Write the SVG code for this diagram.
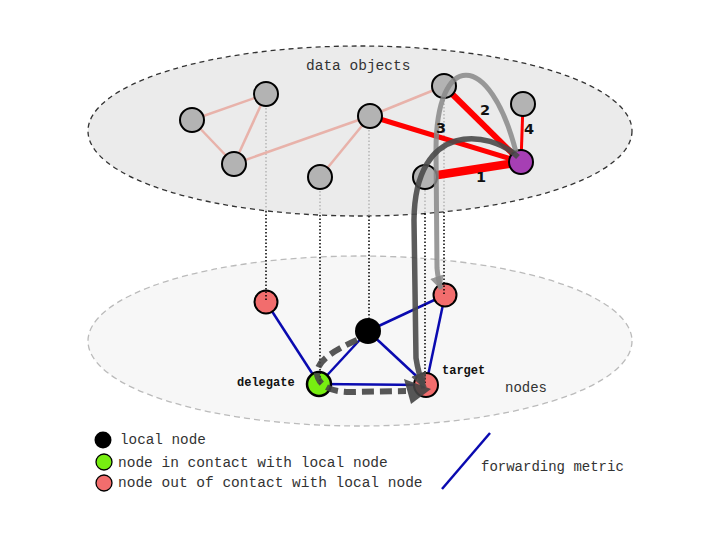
<svg xmlns="http://www.w3.org/2000/svg" width="720" height="540" viewBox="0 0 720 540">
<style>
.mono{font-family:"Liberation Mono","DejaVu Sans Mono",monospace;fill:#333}
.lbl{font-family:"Liberation Mono",monospace;font-weight:bold;font-size:12px;fill:#111}
.num{font-family:"DejaVu Sans",sans-serif;font-weight:bold;font-size:14.5px;fill:#111;text-anchor:middle}
.gn{fill:#b3b3b3;stroke:#000;stroke-width:2}
.rn{fill:#f26d6d;stroke:#000;stroke-width:2}
.pink{stroke:#e8b2aa;stroke-width:2.5;fill:none}
.red{stroke:#ff0000;fill:none}
.blue{stroke:#0a0ab0;stroke-width:2.5;fill:none}
.dotg{stroke:#a8a8a8;stroke-width:1.2;stroke-dasharray:1.5,2;fill:none}
.dotb{stroke:#000;stroke-width:1.5;stroke-dasharray:1.5,2;fill:none}
</style>
<defs>
<marker id="arrL" markerUnits="userSpaceOnUse" markerWidth="16" markerHeight="16" refX="13" refY="7" orient="auto">
<path d="M0,0 L14,7 L0,14 z" fill="#888" fill-opacity="0.85"/>
</marker>
<marker id="arrD" markerUnits="userSpaceOnUse" markerWidth="18" markerHeight="18" refX="15" refY="8" orient="auto">
<path d="M0,0 L16,8 L0,16 z" fill="#4a4a4a" fill-opacity="0.9"/>
</marker>
</defs>
<rect width="720" height="540" fill="#fff"/>
<ellipse id="nodes-plane" cx="360" cy="341" rx="272" ry="85" fill="#f7f7f7" stroke="#bbb" stroke-width="1.3" stroke-dasharray="6,4"/>
<ellipse id="data-plane" cx="360" cy="131" rx="272" ry="85" fill="#ebebeb" stroke="#333" stroke-width="1.3" stroke-dasharray="5,4"/>
<text class="mono" x="306" y="70" font-size="14.5" fill="#444">data objects</text>
<text class="mono" x="505" y="392" font-size="14">nodes</text>

<g id="connectors">
<line class="dotg" x1="266" y1="94" x2="266" y2="211"/>
<line class="dotg" x1="320" y1="177" x2="320" y2="215"/>
<line class="dotg" x1="369" y1="116" x2="369" y2="216"/>
<line class="dotg" x1="425" y1="176" x2="425" y2="213.5"/>
<line class="dotg" x1="444" y1="86" x2="444" y2="212"/>
<line class="pink" x1="192" y1="120" x2="266" y2="94"/>
<line class="pink" x1="192" y1="120" x2="234" y2="164"/>
<line class="pink" x1="266" y1="94" x2="234" y2="164"/>
<line class="pink" x1="234" y1="164" x2="370" y2="116"/>
<line class="pink" x1="370" y1="116" x2="320" y2="177"/>
<line class="pink" x1="370" y1="116" x2="444" y2="86"/>
<line class="red" stroke-width="5" x1="370" y1="116" x2="521" y2="162"/>
<line class="red" stroke-width="6" x1="444" y1="86" x2="521" y2="162"/>
<line class="red" stroke-width="8.5" x1="425" y1="177" x2="521" y2="162"/>
<line class="red" stroke-width="3" x1="523" y1="104" x2="521" y2="162"/>
<line class="blue" x1="266" y1="302" x2="319" y2="384"/>
<line class="blue" x1="319" y1="384" x2="368" y2="331"/>
<line class="blue" x1="368" y1="331" x2="445" y2="295"/>
<line class="blue" x1="368" y1="331" x2="426" y2="385"/>
<line class="blue" x1="319" y1="384" x2="426" y2="385"/>
<line class="blue" x1="445" y1="295" x2="426" y2="385"/>
</g>

<g id="n-a"><circle class="gn" cx="192" cy="120" r="12"/></g>
<g id="n-b"><circle class="gn" cx="266" cy="94" r="12"/></g>
<g id="n-c"><circle class="gn" cx="234" cy="164" r="12"/></g>
<g id="n-d"><circle class="gn" cx="370" cy="116" r="12"/></g>
<g id="n-e"><circle class="gn" cx="320" cy="177" r="12"/></g>
<g id="n-f"><circle class="gn" cx="444" cy="86" r="12"/></g>
<g id="n-g"><circle class="gn" cx="425" cy="177" r="12"/></g>
<g id="n-h"><circle class="gn" cx="523" cy="104" r="12"/></g>
<g id="n-p"><circle cx="521" cy="162" r="12" fill="#a63fb4" stroke="#000" stroke-width="2"/></g>

<g id="n-r1"><circle class="rn" cx="266" cy="302" r="11.5"/></g>
<g id="n-r2"><circle class="rn" cx="445" cy="295" r="11.5"/></g>
<g id="n-local"><circle cx="368" cy="331" r="13" fill="#000"/></g>
<g id="n-delegate"><circle cx="319" cy="384" r="12" fill="#77ee11" stroke="#000" stroke-width="2.5"/><text class="lbl" x="237" y="386">delegate</text></g>
<g id="n-target"><circle class="rn" cx="426" cy="385" r="12"/><text class="lbl" x="442" y="374">target</text></g>

<g id="connectors-over">
<line class="dotb" x1="266" y1="211" x2="266" y2="302"/>
<line class="dotb" x1="320" y1="215" x2="320" y2="384"/>
<line class="dotb" x1="369" y1="216" x2="369" y2="320"/>
<line class="dotb" x1="425" y1="213.5" x2="425" y2="385"/>
<line class="dotb" x1="444" y1="212" x2="444" y2="295"/>
<path d="M516 152 C490 50 436 50 436 150 L437 268 Q438 280 441 289" fill="none" stroke="#888" stroke-opacity="0.85" stroke-width="5" marker-end="url(#arrL)"/>
<path d="M518 157 C490 130 415 120 414 220 L416 358 Q418 372 424 388" fill="none" stroke="#4a4a4a" stroke-opacity="0.9" stroke-width="5.5" marker-end="url(#arrD)"/>
<path d="M357 340 C332 351 312 364 318 378 C322 388 335 392 350 392 L406 391" fill="none" stroke="#444" stroke-opacity="0.9" stroke-width="6" stroke-dasharray="12,6"/>
<polygon points="404,379 431,389 411,404" fill="#444" fill-opacity="0.9"/>
</g>

<text class="num" x="481" y="182">1</text>
<text class="num" x="485" y="115">2</text>
<text class="num" x="441" y="133">3</text>
<text class="num" x="529" y="134">4</text>

<g id="legend">
<circle cx="103" cy="440" r="8.5" fill="#000"/>
<text class="mono" x="120" y="444" font-size="14.3">local node</text>
<circle cx="104" cy="462" r="8" fill="#77ee11" stroke="#000" stroke-width="1.3"/>
<text class="mono" x="118" y="467" font-size="14.5">node in contact with local node</text>
<circle cx="104" cy="483" r="8" fill="#f26d6d" stroke="#000" stroke-width="1.3"/>
<text class="mono" x="118" y="487" font-size="14.5">node out of contact with local node</text>
<line class="blue" x1="442" y1="489" x2="490" y2="433"/>
<text class="mono" x="481" y="471" font-size="14">forwarding metric</text>
</g>
</svg>
